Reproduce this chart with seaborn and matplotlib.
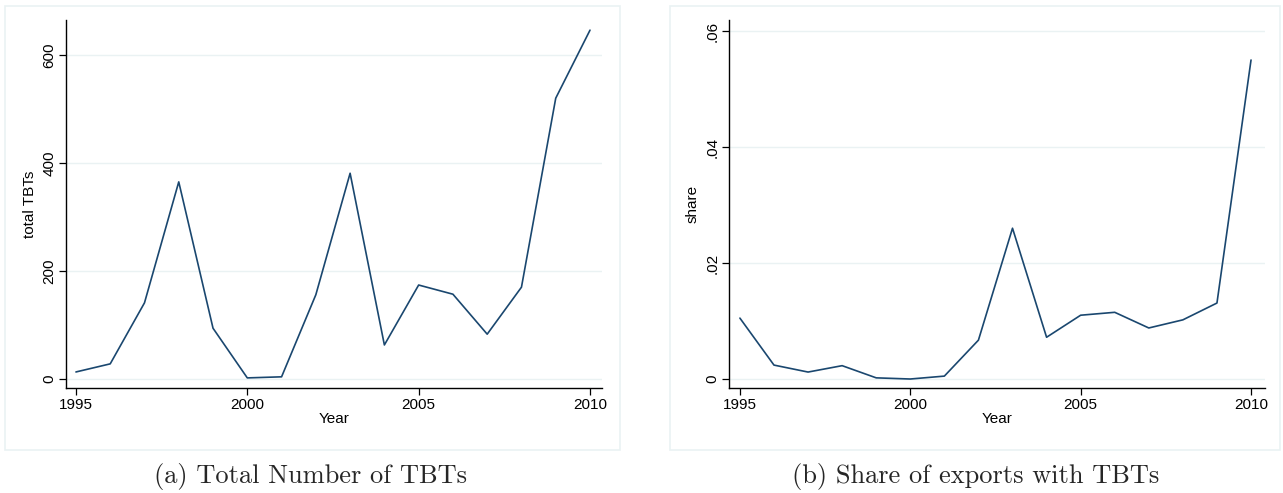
import seaborn as sns
import pandas as pd
import matplotlib.pyplot as plt
from matplotlib.patches import Rectangle
from matplotlib.ticker import FuncFormatter

years = list(range(1995, 2011))
total_tbts = [13, 28, 141, 365, 94, 2, 4, 156, 381, 63, 174, 157, 83, 170, 520, 646]
share = [0.0105, 0.0024, 0.0012, 0.0023, 0.0002, 0.0, 0.0005, 0.0067,
         0.026, 0.0072, 0.011, 0.0115, 0.0088, 0.0102, 0.0131, 0.055]
captions = ['(a) Total Number of TBTs', '(b) Share of exports with TBTs']

df = pd.DataFrame({'Year': years, 'total TBTs': total_tbts, 'share': share})

sns.set_theme(style='white')
plt.rcParams['font.family'] = ['Liberation Sans', 'DejaVu Sans']

line_col = '#1a476f'
grid_col = '#eaf2f3'

fig = plt.figure(figsize=(12.83, 4.93), dpi=100)

# stata-like graph region frames
W, H = 1283, 493
for x0, x1 in [(5, 620), (670, 1280)]:
    fig.patches.append(Rectangle((x0 / W, 1 - 450 / H), (x1 - x0) / W, 444 / H,
                                 transform=fig.transFigure, fill=False,
                                 edgecolor=grid_col, linewidth=1.2))

ax1 = fig.add_axes([66 / W, 1 - 388 / H, (602 - 66) / W, 368 / H])
ax2 = fig.add_axes([729 / W, 1 - 388 / H, (1265 - 729) / W, 368 / H])

sns.lineplot(data=df, x='Year', y='total TBTs', ax=ax1, color=line_col, linewidth=1.2)
sns.lineplot(data=df, x='Year', y='share', ax=ax2, color=line_col, linewidth=1.2)

ax1.set_xlim(1994.71, 2010.35)
ax1.set_ylim(-16.7, 664.8)
ax1.set_yticks([0, 200, 400, 600])
ax2.set_xlim(1994.68, 2010.41)
ax2.set_ylim(-0.00155, 0.0619)
ax2.set_yticks([0, 0.02, 0.04, 0.06])
ax2.yaxis.set_major_formatter(FuncFormatter(lambda v, p: '0' if v == 0 else ('%.2f' % v).lstrip('0')))

# captions centred under each graph frame
for ax, cap, cx in zip([ax1, ax2], captions, [311, 976]):
    ax.set_xticks([1995, 2000, 2005, 2010])
    ax.grid(axis='y', color=grid_col, linewidth=1.0)
    ax.set_axisbelow(True)
    for s in ['top', 'right']:
        ax.spines[s].set_visible(False)
    for s in ['left', 'bottom']:
        ax.spines[s].set_color('black')
        ax.spines[s].set_linewidth(1.0)
    ax.tick_params(axis='both', which='major', direction='out', length=5, width=0.9,
                   color='black', labelsize=11, labelcolor='black', left=True, bottom=True, pad=2)
    for lbl in ax.get_yticklabels():
        lbl.set_rotation(90)
        lbl.set_va('center')
    ax.set_xlabel('Year', fontsize=11, labelpad=0, color='black')
    ax.yaxis.label.set_fontsize(11)
    ax.yaxis.label.set_color('black')
    fig.text(cx / W, 1 - 477 / H, cap, ha='center', va='center',
             fontsize=19, family='cmr10')

ax1.set_ylabel('total TBTs', labelpad=4)
ax2.set_ylabel('share', labelpad=4)

fig.savefig('out.png', dpi=100)
